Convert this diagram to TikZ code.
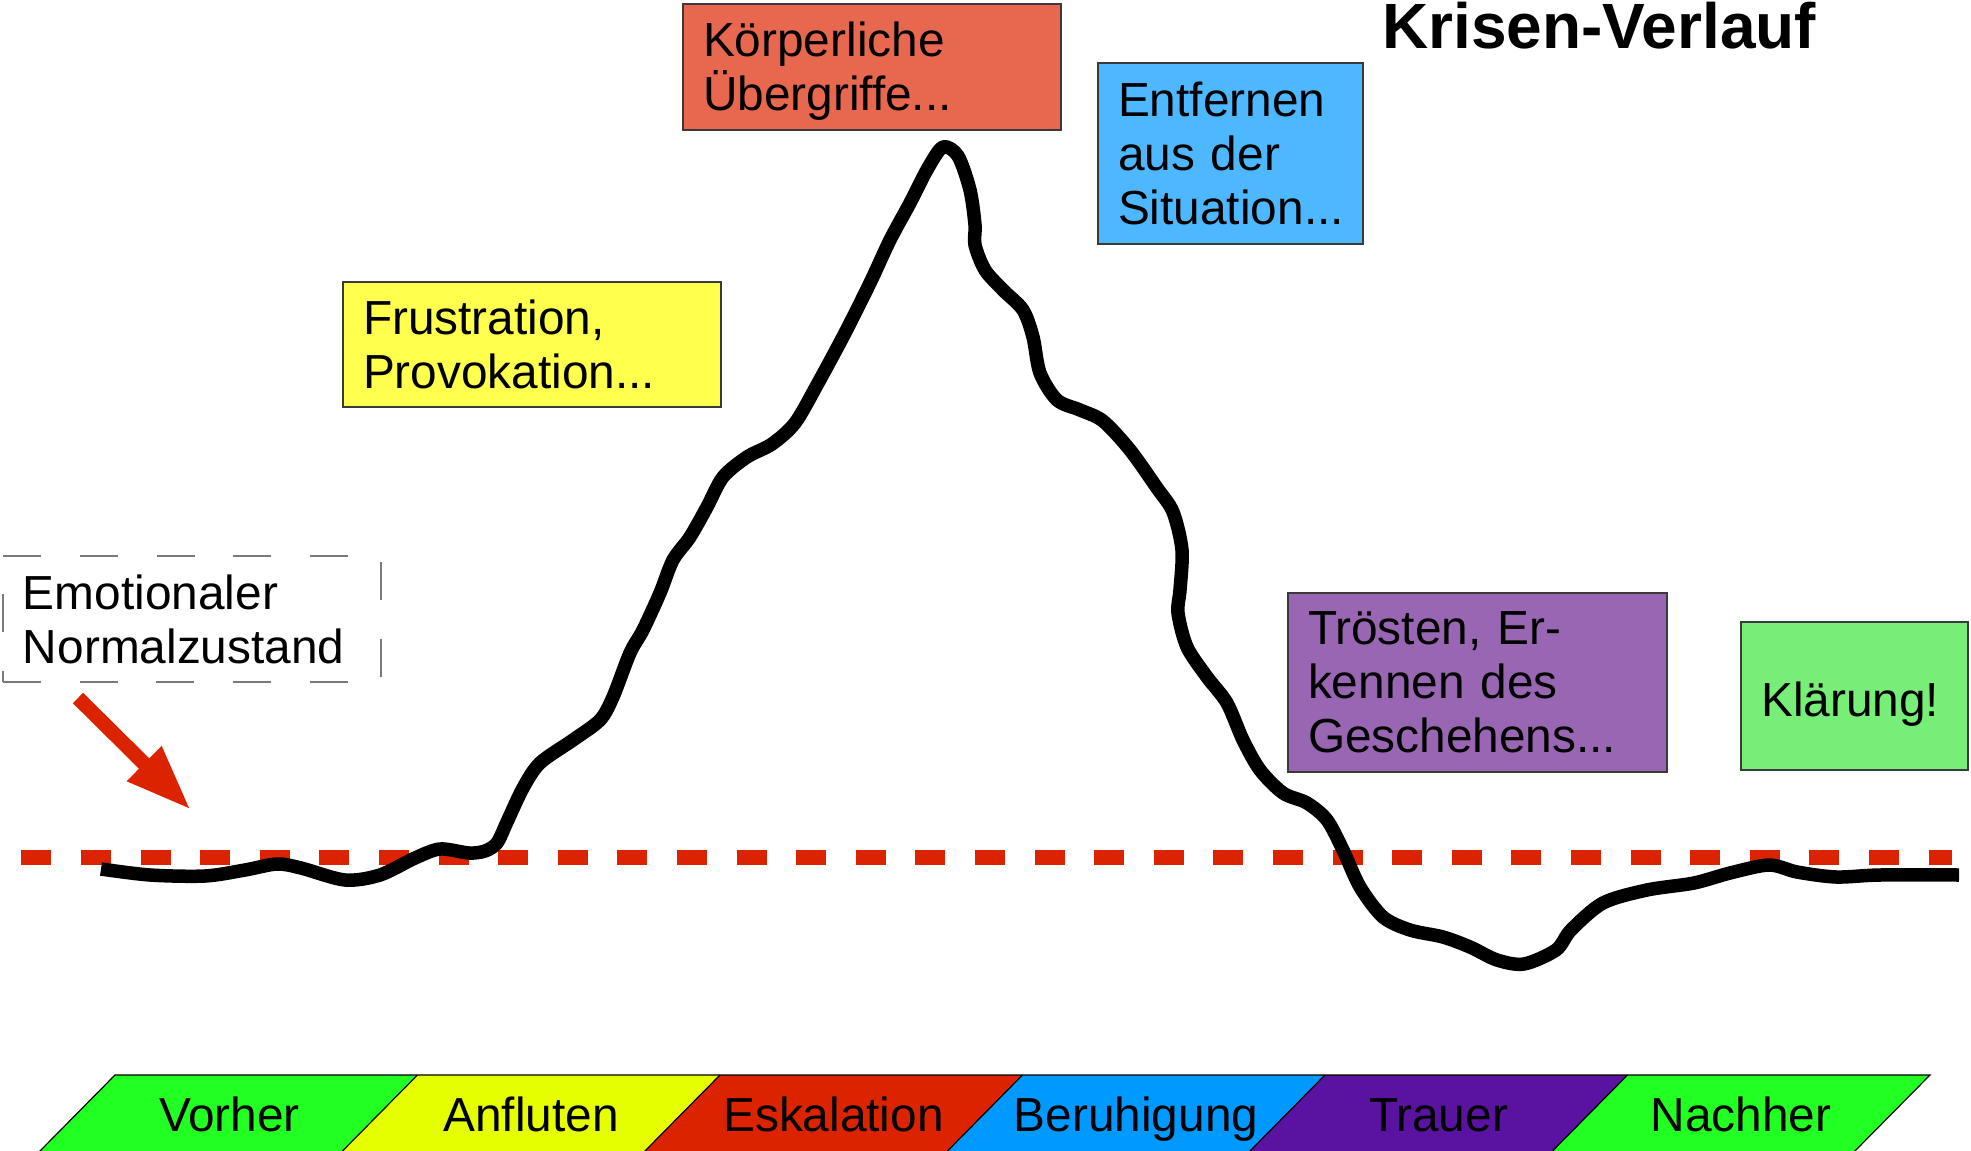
\documentclass[tikz,border=0pt]{standalone}
\usepackage{fontspec}
\setmainfont{Liberation Sans}
\usetikzlibrary{arrows.meta}
\definecolor{redline}{HTML}{DC2300}
\definecolor{bandgreen}{HTML}{22FF22}
\definecolor{bandyellow}{HTML}{E6FF00}
\definecolor{bandred}{HTML}{DC2300}
\definecolor{bandblue}{HTML}{0099FF}
\definecolor{bandpurple}{HTML}{5A12A0}
\definecolor{boxsalmon}{HTML}{E8684F}
\definecolor{boxblue}{HTML}{4DB8FF}
\definecolor{boxyellow}{HTML}{FFFF4D}
\definecolor{boxpurple}{HTML}{9966B3}
\definecolor{boxgreen}{HTML}{77EE77}
\definecolor{boxborder}{HTML}{3A3A3A}
\definecolor{dashgray}{HTML}{7A7A7A}
\newcommand{\boxfont}{\fontsize{47.8pt}{54pt}\selectfont}
\newcommand{\titlefont}{\bfseries\fontsize{64pt}{70pt}\selectfont}
\tikzset{
  txt/.style={font=\boxfont},
  infobox/.style={txt, draw=boxborder, line width=1.5pt, inner xsep=20pt, inner ysep=0pt, align=left, anchor=center},
  normbox/.style={txt, draw=dashgray, line width=1.6pt, dash pattern=on 38pt off 38.7pt, inner xsep=20pt, inner ysep=0pt, align=left, anchor=center},
  band/.style={draw=black, line width=1.2pt},
  bandlabel/.style={txt, inner sep=0pt, anchor=base},
  curve/.style={draw=black, line width=13.5pt, line join=round, line cap=butt},
  normline/.style={draw=redline, line width=15pt, dash pattern=on 30pt off 29.6pt},
  pointer/.style={draw=redline, line width=14.6pt, -{Triangle[length=66pt, width=45pt, fill=redline]}},
}
\begin{document}
\hyphenpenalty=10000
\exhyphenpenalty=10000
\begin{tikzpicture}[x=1pt,y=-1pt]
\useasboundingbox (0,0) rectangle (1971,1151);

% phase bands
\fill[bandgreen]  (115,1075) -- (417.5,1075) -- (338.5,1155) -- (36,1155) -- cycle;
\fill[bandyellow] (417.5,1075) -- (720,1075) -- (641,1155) -- (338.5,1155) -- cycle;
\fill[bandred]    (720,1075) -- (1022.5,1075) -- (943.5,1155) -- (641,1155) -- cycle;
\fill[bandblue]   (1022.5,1075) -- (1325,1075) -- (1246,1155) -- (943.5,1155) -- cycle;
\fill[bandpurple] (1325,1075) -- (1627.5,1075) -- (1548.5,1155) -- (1246,1155) -- cycle;
\fill[bandgreen]  (1627.5,1075) -- (1930,1075) -- (1851,1155) -- (1548.5,1155) -- cycle;
\draw[band] (36,1155) -- (115,1075) -- (1930,1075) -- (1851,1155);
\draw[band] (417.5,1075) -- (338.5,1155);
\draw[band] (720,1075) -- (641,1155);
\draw[band] (1022.5,1075) -- (943.5,1155);
\draw[band] (1325,1075) -- (1246,1155);
\draw[band] (1627.5,1075) -- (1548.5,1155);
\node[bandlabel] (vorher)    at (229.5,1131)  {Vorher};
\node[bandlabel] (anfluten)  at (531,1131)    {Anfluten};
\node[bandlabel] (eskalation) at (833.5,1131) {Eskalation};
\node[bandlabel] (beruhigung) at (1136,1131)  {Beruhigung};
\node[bandlabel] (trauer)    at (1438.5,1131) {Trauer};
\node[bandlabel] (nachher)   at (1741,1131)   {Nachher};

% emotional baseline
\coordinate (nlstart) at (21.3,857.5);
\coordinate (nlend) at (1952,857.5);
\draw[normline] (nlstart) -- (nlend);

% crisis curve
\draw[curve] plot[smooth, tension=0.5] coordinates {
(101,869) (150,875) (205,876) (245,870) (277,864) (301,868) (345,880)
(380,875) (415,858) (440,849) (469,853) (485,851) (497,843) (507,822)
(523,788) (540,763) (573,740) (600,720) (613,697) (630,653) (643,630)
(660,593) (673,560) (690,537) (707,507) (723,477) (747,457) (772,444)
(795,423) (817,385) (845,333) (870,283) (890,240) (910,203) (928,168)
(943,147) (958,156) (970,190) (975,225) (975,245) (985,270) (1003,290)
(1023,310) (1033,337) (1040,373) (1057,400) (1080,410) (1103,421)
(1130,450) (1157,488) (1173,512) (1182,550) (1180,590) (1178,613)
(1187,647) (1207,677) (1227,703) (1243,740) (1260,770) (1283,793)
(1307,803) (1327,820) (1343,850) (1360,887) (1383,917) (1410,930)
(1443,937) (1470,947) (1497,960) (1524,964) (1556,950) (1571,930)
(1603,903) (1647,890) (1694,883) (1730,873) (1769,865) (1797,872)
(1836,877) (1880,875) (1959,875)};

% boxes
\node[infobox, fill=boxsalmon, minimum width=378pt, minimum height=126pt] (koerper) at (872,67) {};
\node[txt, inner sep=0pt, text width=338pt, align=left] (koerpertext) at (872,71.5) {Körperliche\\Übergriffe...};
\node[infobox, fill=boxblue, minimum width=265pt, minimum height=181pt, text width=225pt] (entfernen) at (1230.5,153.5) {Entfernen\\aus der\\Situation...};
\node[infobox, fill=boxyellow, minimum width=378pt, minimum height=125pt, text width=338pt] (frust) at (532,344.5) {Frustration,\\Provokation...};
\node[normbox, minimum width=378pt, minimum height=126pt, text width=338pt] (normal) at (192,619) {Emotionaler\\Normalzustand};
\node[infobox, fill=boxpurple, minimum width=379pt, minimum height=179pt, text width=339pt] (troesten) at (1477.5,682.5) {Trösten, Er-\\kennen des\\Geschehens...};
\node[infobox, fill=boxgreen, minimum width=227pt, minimum height=148pt] (klaerung) at (1854.5,696) {};
\node[txt, inner sep=0pt, anchor=base west] (klaerungtext) at (1761,716) {Klärung!};

% title
\node[font=\titlefont, inner sep=0pt, anchor=base west] (title) at (1382,48) {Krisen-Verlauf};

% pointer arrow
\coordinate (ptail) at (78,698);
\coordinate (ptip) at (191,810);
\draw[pointer] (ptail) -- (ptip);
\end{tikzpicture}
\end{document}
